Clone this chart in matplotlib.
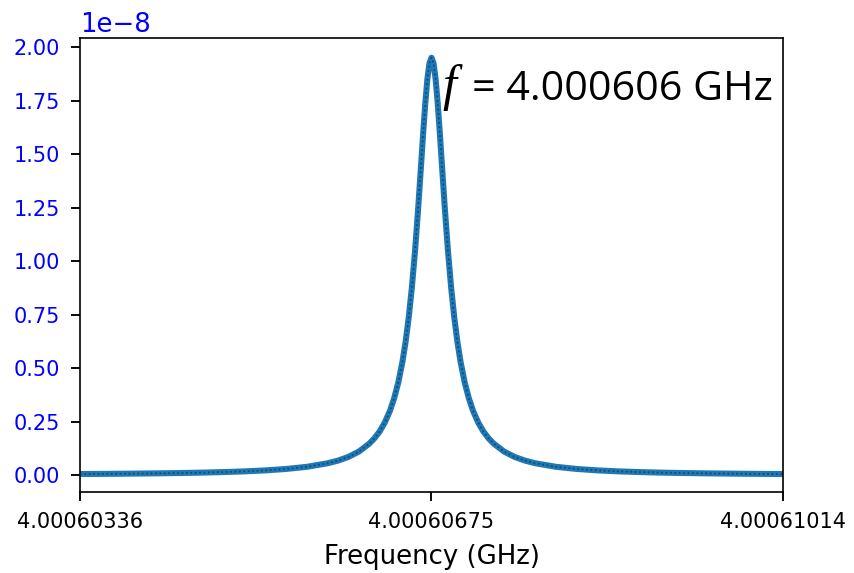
import matplotlib
matplotlib.use("Agg")
import matplotlib.pyplot as plt
import numpy as np
from matplotlib.ticker import ScalarFormatter

# ---- data ----
center_ghz = 4.00060675
detuning_khz = [-3.39, -3.2, -3.0, -2.8, -2.6, -2.4, -2.2, -2.0, -1.8, -1.6, -1.4, -1.2,
                -1.0, -0.9, -0.8, -0.7, -0.6, -0.55, -0.5, -0.45, -0.4, -0.36, -0.32,
                -0.28, -0.25, -0.22, -0.19, -0.16, -0.13, -0.10, -0.08, -0.06, -0.04,
                -0.02, 0.0,
                0.02, 0.04, 0.06, 0.08, 0.10, 0.13, 0.16, 0.19, 0.22, 0.25, 0.28, 0.32,
                0.36, 0.4, 0.45, 0.5, 0.55, 0.6, 0.7, 0.8, 0.9, 1.0, 1.2, 1.4, 1.6, 1.8,
                2.0, 2.2, 2.4, 2.6, 2.8, 3.0, 3.2, 3.39]
signal_e8 = [0.0050, 0.0056, 0.0063, 0.0073, 0.0084, 0.0099, 0.0117, 0.0142, 0.0174,
             0.0220, 0.0287, 0.0388, 0.0554, 0.0679, 0.0852, 0.110, 0.147, 0.172, 0.204,
             0.246, 0.301, 0.359, 0.433, 0.530, 0.622, 0.735, 0.873, 1.040, 1.236,
             1.453, 1.600, 1.736, 1.849, 1.924, 1.950,
             1.924, 1.849, 1.736, 1.600, 1.453, 1.236, 1.040, 0.873, 0.735, 0.622,
             0.530, 0.433, 0.359, 0.301, 0.246, 0.204, 0.172, 0.147, 0.110, 0.0852,
             0.0679, 0.0554, 0.0388, 0.0287, 0.0220, 0.0174, 0.0142, 0.0117, 0.0099,
             0.0084, 0.0073, 0.0063, 0.0056, 0.0050]
xtick_values = [4.00060336, 4.00060675, 4.00061014]
xtick_labels = ["4.00060336", "4.00060675", "4.00061014"]
ytick_values = [0.0, 0.25, 0.5, 0.75, 1.0, 1.25, 1.5, 1.75, 2.0]
annotation = "= 4.000606 GHz"

freq = center_ghz + np.array(detuning_khz) * 1e-6
sig = np.array(signal_e8) * 1e-8

W, H, DPI = 854, 573, 150
fig = plt.figure(figsize=(W / DPI, H / DPI), dpi=DPI)
ax = fig.add_axes([80 / W, 1 - 492 / H, (783 - 80) / W, (492 - 38) / H])

ax.plot(freq, sig, '-', color='#1f77b4', lw=2.9, solid_capstyle='round', zorder=2)
ax.plot(freq, sig, ':', color='#0b3a5e', lw=0.8, alpha=0.8, zorder=3)

ax.set_xlim(xtick_values[0], xtick_values[-1])
ax.set_ylim(-0.079e-8, 2.042e-8)
ax.set_xticks(xtick_values)
ax.set_xticklabels(xtick_labels)
ax.set_yticks(np.array(ytick_values) * 1e-8)
fmt = ScalarFormatter(useMathText=False)
fmt.set_powerlimits((-3, 3))
ax.yaxis.set_major_formatter(fmt)

ax.tick_params(axis='both', labelsize=10, length=4.5, width=0.9, pad=5)
ax.tick_params(axis='y', labelcolor='blue')
ax.yaxis.get_offset_text().set_color('blue')
ax.yaxis.get_offset_text().set_fontsize(12.5)
ax.set_xlabel("Frequency (GHz)", fontsize=12.5, labelpad=6)

fig.text(442 / W, 1 - 100 / H, "f", family="Liberation Serif", style="italic",
         fontsize=24, ha='left', va='baseline')
fig.text(472 / W, 1 - 100 / H, annotation, family="Open Sans",
         fontsize=19.8, ha='left', va='baseline')

fig.savefig("out.png", dpi=DPI)
